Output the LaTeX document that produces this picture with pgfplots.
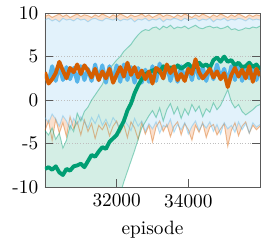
\documentclass[border=0pt]{standalone}
\usepackage{pgfplots}
\pgfplotsset{compat=1.18}
\usepackage{pgfplotstable}
\usepgfplotslibrary{fillbetween}
\definecolor{cblue}{HTML}{56B4E9}
\definecolor{corange}{HTML}{D55E00}
\definecolor{cgreen}{HTML}{009E73}
\definecolor{fblue}{RGB}{226,242,251}
\definecolor{forange}{RGB}{250,224,206}
\definecolor{fgreen}{RGB}{212,238,229}
\pgfplotstableread{
x m lo hi
30000 3.0 -2.0 9.2
30100 2.1 -2.6 9.4
30200 3.9 -1.6 9.1
30300 2.2 -2.2 9.3
30400 4.0 -3.0 9.0
30500 2.3 -1.8 9.4
30600 3.8 -2.4 9.2
30700 2.4 -3.4 9.3
30800 3.7 -2.1 9.1
30900 2.1 -2.8 9.4
31000 3.9 -1.9 9.2
31100 2.3 -2.5 9.3
31200 3.6 -3.2 9.0
31300 2.2 -2.0 9.3
31400 4.1 -2.7 9.4
31500 2.3 -1.7 9.2
31600 4.0 -2.9 9.1
31700 2.0 -2.2 9.4
31800 3.9 -3.1 9.3
31900 2.2 -2.0 9.2
32000 4.0 -2.6 9.4
32100 2.1 -3.3 9.1
32200 4.1 -2.3 9.3
32300 2.3 -2.8 9.2
32400 3.8 -3.5 9.4
32500 2.0 -2.1 9.0
32600 3.7 -3.0 9.3
32700 2.0 -2.4 9.2
32800 3.5 -3.6 9.4
32900 2.1 -2.7 9.1
33000 3.9 -3.3 9.3
33100 2.2 -2.5 9.2
33200 4.2 -3.8 9.4
33300 2.5 -2.9 9.0
33400 4.0 -3.1 9.3
33500 2.2 -2.2 9.2
33600 3.6 -3.7 9.4
33700 2.1 -2.8 9.3
33800 3.9 -3.4 9.1
33900 2.4 -2.6 9.4
34000 3.7 -3.9 9.2
34100 2.3 -3.0 9.3
34200 4.1 -2.4 9.4
34300 2.5 -3.5 9.1
34400 3.8 -2.7 9.3
34500 2.2 -3.2 9.2
34600 3.8 -2.5 9.4
34700 2.4 -3.6 9.0
34800 4.1 -2.8 9.3
34900 2.5 -3.9 9.2
35000 3.6 -2.6 9.4
35100 2.1 -3.3 9.1
35200 3.9 -2.9 9.3
35300 2.3 -3.7 9.2
35400 4.0 -2.5 9.4
35500 2.2 -3.4 9.3
35600 3.8 -2.7 9.1
35700 2.5 -3.8 9.4
35800 3.9 -2.6 9.2
35900 2.3 -3.1 9.3
36000 3.5 -2.8 9.2
}\bluetab
\pgfplotstableread{
x m lo hi
30000 3.2 -3.5 9.6
30100 1.9 -2.4 9.8
30200 2.4 -4.6 9.5
30300 3.1 -2.2 9.7
30400 4.4 -3.8 9.9
30500 3.4 -2.6 9.6
30600 2.5 -4.2 9.8
30700 3.7 -1.9 9.5
30800 3.2 -3.3 9.7
30900 4.1 -2.5 9.9
31000 3.0 -4.0 9.6
31100 4.0 -2.3 9.8
31200 3.4 -3.6 9.7
31300 2.6 -2.7 9.5
31400 3.6 -4.4 9.8
31500 2.3 -2.9 9.6
31600 3.3 -3.4 9.9
31700 2.5 -2.6 9.7
31800 3.6 -4.1 9.5
31900 2.0 -3.0 9.8
32000 2.9 -2.4 9.6
32100 3.8 -3.7 9.9
32200 2.7 -2.8 9.7
32300 4.3 -4.3 9.5
32400 2.9 -2.5 9.8
32500 3.8 -3.2 9.6
32600 2.6 -4.5 9.7
32700 3.4 -2.6 9.9
32800 2.4 -3.9 9.6
32900 3.3 -2.9 9.8
33000 1.9 -4.8 9.5
33100 3.7 -3.1 9.7
33200 3.4 -2.4 9.9
33300 2.5 -3.6 9.6
33400 4.1 -2.8 9.8
33500 3.1 -4.2 9.7
33600 3.9 -3.0 9.5
33700 2.3 -2.5 9.8
33800 3.0 -4.0 9.6
33900 2.2 -2.7 9.9
34000 3.6 -3.4 9.7
34100 3.0 -4.6 9.5
34200 4.7 -2.9 9.8
34300 3.2 -3.7 9.6
34400 2.5 -2.6 9.9
34500 3.0 -4.3 9.7
34600 3.6 -3.1 9.5
34700 2.6 -2.8 9.8
34800 3.3 -4.0 9.6
34900 2.4 -3.3 9.9
35000 3.1 -2.7 9.7
35100 1.5 -5.3 9.5
35200 2.9 -3.5 9.8
35300 3.7 -2.6 9.6
35400 2.7 -4.1 9.9
35500 3.5 -3.0 9.7
35600 2.5 -2.5 9.5
35700 3.9 -3.8 9.8
35800 2.1 -2.9 9.6
35900 3.6 -3.4 9.8
36000 2.8 -3.0 9.7
}\orangetab
\pgfplotstableread{
x m lo hi
30000 -7.9 -13 -3.5
30100 -7.7 -13 -4.0
30200 -8.0 -13 -3.2
30300 -7.6 -13 -4.5
30400 -8.3 -13 -3.8
30500 -8.6 -13 -5.5
30600 -7.9 -13 -4.6
30700 -8.1 -13 -2.9
30800 -7.6 -13 -3.6
30900 -7.5 -13 -1.5
31000 -7.3 -13 -2.4
31100 -7.7 -13 -1.3
31200 -7.0 -13 -0.8
31300 -6.3 -13 0.0
31400 -6.5 -13 0.6
31500 -5.9 -13 1.2
31600 -5.4 -13 1.8
31700 -5.6 -13 2.8
31800 -4.8 -13 3.6
31900 -4.4 -13 4.1
32000 -4.0 -12 4.6
32100 -3.2 -10.8 5.0
32200 -2.4 -9.4 5.6
32300 -1.2 -8.2 6.0
32400 -0.4 -7.0 6.4
32500 0.8 -5.8 7.0
32600 1.7 -4.5 7.5
32700 2.4 -3.2 7.9
32800 3.0 -2.5 8.1
32900 3.2 -1.8 8.0
33000 3.4 -1.2 8.3
33100 3.6 -2.0 8.4
33200 3.2 -0.9 8.1
33300 3.9 -2.4 8.5
33400 3.5 -1.1 8.3
33500 3.8 -0.4 8.6
33600 3.4 -1.6 8.2
33700 4.0 -0.8 8.4
33800 3.6 -2.1 8.3
33900 3.9 -1.0 8.5
34000 4.2 -1.7 8.2
34100 3.7 -0.5 8.4
34200 3.8 -1.3 8.6
34300 4.3 -0.7 8.3
34400 3.9 -1.9 8.2
34500 4.1 -1.0 8.4
34600 3.7 -1.4 8.5
34700 4.6 -0.3 8.3
34800 4.9 -1.1 8.4
34900 4.4 -0.6 8.2
35000 5.0 0.3 8.3
35100 4.4 1.2 8.5
35200 4.6 -0.2 8.1
35300 4.0 -0.9 8.2
35400 4.3 -0.5 8.0
35500 3.8 -1.3 8.1
35600 3.9 -1.7 8.3
35700 4.3 -1.4 8.2
35800 3.8 -1.1 8.4
35900 4.1 -0.7 8.3
36000 3.5 -0.5 8.5
}\greentab
\begin{document}
\begin{tikzpicture}
\begin{axis}[
  set layers=standard,
  scale only axis, width=111.4pt, height=90.2pt,
  xmin=30000, xmax=36000, ymin=-10, ymax=10,
  xtick={32000,34000}, ytick={-10,-5,0,5,10},
  scaled x ticks=false,
  /pgf/number format/assume math mode=true,
  xticklabel style={/pgf/number format/.cd, set thousands separator={}},
  ymajorgrids, grid style={densely dotted, gray!50},
  axis line style={black!65}, tick style={black!65},
  xlabel={episode},
  fill between/on layer=axis background,
]
% band edges (paths)
\addplot[corange, draw opacity=0.4, line width=0.5pt, name path=olo] table[x=x,y=lo]{\orangetab};
\addplot[corange, draw opacity=0.4, line width=0.5pt, name path=ohi] table[x=x,y=hi]{\orangetab};
\addplot[cblue, draw opacity=0.4, line width=0.5pt, name path=blo] table[x=x,y=lo]{\bluetab};
\addplot[cblue, draw opacity=0.4, line width=0.5pt, name path=bhi] table[x=x,y=hi]{\bluetab};
\addplot[cgreen, draw opacity=0.4, line width=0.5pt, name path=glo] table[x=x,y=lo]{\greentab};
\addplot[cgreen, draw opacity=0.4, line width=0.5pt, name path=ghi] table[x=x,y=hi]{\greentab};
% fills (behind grid)
\addplot[forange, draw=none] fill between[of=olo and ohi];
\addplot[fblue, draw=none] fill between[of=blo and bhi];
\addplot[fgreen, draw=none] fill between[of=glo and ghi];
% means
\addplot[cblue, line width=2pt, line join=round] table[x=x,y=m]{\bluetab};
\addplot[cgreen, line width=2pt, line join=round] table[x=x,y=m]{\greentab};
\addplot[corange, line width=2pt, line join=round] table[x=x,y=m]{\orangetab};
\end{axis}
\path ([shift={(-23.3pt,-29pt)}]current axis.south west) rectangle ([shift={(3.1pt,5.2pt)}]current axis.north east);
\end{tikzpicture}
\end{document}
